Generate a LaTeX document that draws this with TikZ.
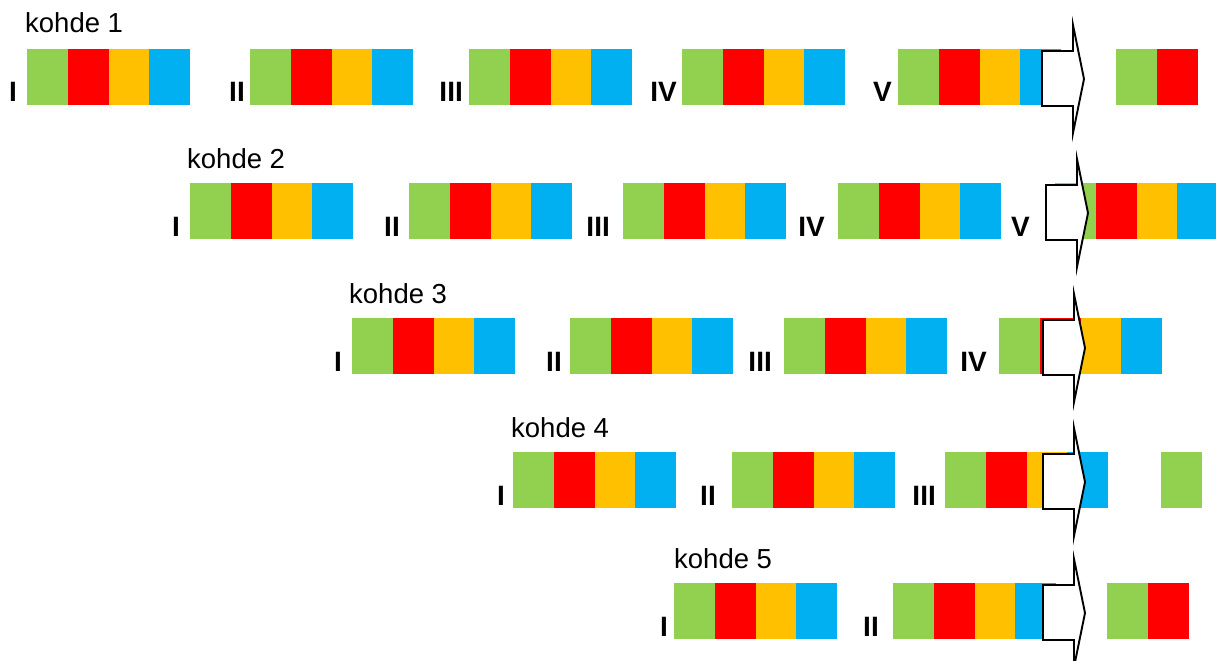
\documentclass[tikz,border=0pt]{standalone}
\usepackage{fontspec}
\setmainfont{Liberation Sans}
\usetikzlibrary{calc}
\definecolor{cg}{HTML}{92D050}
\definecolor{cr}{HTML}{FF0000}
\definecolor{cy}{HTML}{FFC000}
\definecolor{cb}{HTML}{00B0F0}
\tikzset{
  cell/.style={rectangle, inner sep=0pt, outer sep=0pt, minimum width=40.9pt, minimum height=56pt, anchor=north west},
  rlabel/.style={font=\fontsize{28}{30}\selectfont\bfseries, anchor=base east, inner sep=0pt},
  klabel/.style={font=\fontsize{27.5}{30}\selectfont, anchor=base west, inner sep=0pt},
  bigarrow/.style={draw=black, fill=white, line width=1.9pt, line join=miter}
}
\newcommand{\kseg}[4]{%
  \foreach \c [count=\i from 0] in {#4} {
    \node[cell, fill=\c] (#1-\i) at ({#2+\i*40.75}, #3) {};
  }}
\newcommand{\karrow}[3]{%
  \coordinate (#3) at (#1,#2);
  \draw[bigarrow] ($(#3)+(0,2)$) -- ($(#3)+(31,2)$) -- ($(#3)+(31,-24)$) -- ($(#3)+(42,30)$)
    -- ($(#3)+(31,84)$) -- ($(#3)+(31,57)$) -- ($(#3)+(0,57)$) -- cycle;}
\begin{document}
\begin{tikzpicture}[x=1pt, y=-1pt]
\useasboundingbox (0,0) rectangle (1216,661);
% row 1
\node[klabel] (k1) at (25,33) {kohde 1};
\kseg{a1}{27}{49}{cg,cr,cy,cb}
\kseg{a2}{250}{49}{cg,cr,cy,cb}
\kseg{a3}{469}{49}{cg,cr,cy,cb}
\kseg{a4}{682}{49}{cg,cr,cy,cb}
\kseg{a5}{898}{49}{cg,cr,cy,cb}
\kseg{a6}{1116}{49}{cg,cr}
\node[rlabel] (la1) at (17,102) {I};
\node[rlabel] (la2) at (245,102) {II};
\node[rlabel] (la3) at (463,102) {III};
\node[rlabel] (la4) at (677,102) {IV};
\node[rlabel] (la5) at (892,102) {V};
\karrow{1042}{49}{ar1}
% row 2
\node[klabel] (k2) at (187,168) {kohde 2};
\kseg{b1}{190}{183}{cg,cr,cy,cb}
\kseg{b2}{409}{183}{cg,cr,cy,cb}
\kseg{b3}{623}{183}{cg,cr,cy,cb}
\kseg{b4}{838}{183}{cg,cr,cy,cb}
\kseg{b5}{1055}{183}{cg,cr,cy,cb}
\node[rlabel] (lb1) at (180,236) {I};
\node[rlabel] (lb2) at (400,236) {II};
\node[rlabel] (lb3) at (610,236) {III};
\node[rlabel] (lb4) at (825,236) {IV};
\node[rlabel] (lb5) at (1030,236) {V};
\karrow{1046}{183}{ar2}
% row 3
\node[klabel] (k3) at (349,303) {kohde 3};
\kseg{c1}{352}{318}{cg,cr,cy,cb}
\kseg{c2}{570}{318}{cg,cr,cy,cb}
\kseg{c3}{784}{318}{cg,cr,cy,cb}
\kseg{c4}{999}{318}{cg,cr,cy,cb}
\node[rlabel] (lc1) at (342,371) {I};
\node[rlabel] (lc2) at (562,371) {II};
\node[rlabel] (lc3) at (772,371) {III};
\node[rlabel] (lc4) at (987,371) {IV};
\karrow{1043}{318}{ar3}
% row 4
\node[klabel] (k4) at (511,437) {kohde 4};
\kseg{d1}{513}{452}{cg,cr,cy,cb}
\kseg{d2}{732}{452}{cg,cr,cy,cb}
\kseg{d3}{945}{452}{cg,cr,cy,cb}
\kseg{d4}{1161}{452}{cg}
\node[rlabel] (ld1) at (505,505) {I};
\node[rlabel] (ld2) at (716,505) {II};
\node[rlabel] (ld3) at (936,505) {III};
\karrow{1043}{452}{ar4}
% row 5
\node[klabel] (k5) at (674,568) {kohde 5};
\kseg{e1}{674}{583}{cg,cr,cy,cb}
\kseg{e2}{893}{583}{cg,cr,cy,cb}
\kseg{e3}{1107}{583}{cg,cr}
\node[rlabel] (le1) at (668,636) {I};
\node[rlabel] (le2) at (879,636) {II};
\karrow{1043}{583}{ar5}
\end{tikzpicture}
\end{document}
